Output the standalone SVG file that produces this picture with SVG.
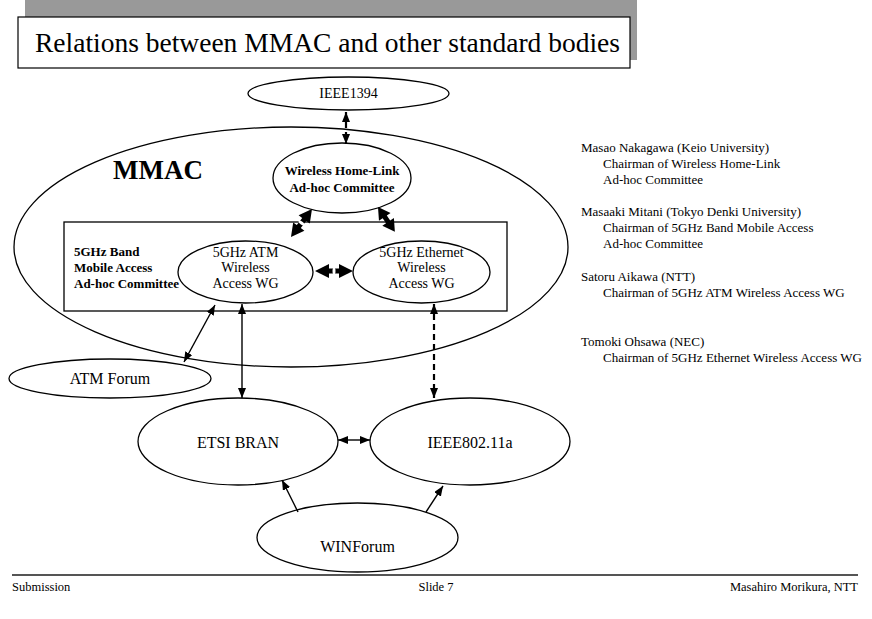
<svg xmlns="http://www.w3.org/2000/svg" width="872" height="619" viewBox="0 0 872 619">
<style>
text{font-family:"Liberation Serif","Times New Roman",serif;fill:#000}
.t13{font-size:13px}
.t14{font-size:14px}
.t16{font-size:16px}
.b{font-weight:bold}
.mid{text-anchor:middle}
.node{fill:#fff;stroke:#000;stroke-width:1.3}
.open{fill:none;stroke:#000;stroke-width:1.3}
.ln{stroke:#000;stroke-width:1.4;fill:none}
.dash{stroke:#000;stroke-width:2.2;stroke-dasharray:6,4;fill:none}
.blk{fill:#000}
</style>
<defs>
<marker id="ah" viewBox="0 0 10 8" refX="10" refY="4" markerWidth="10" markerHeight="8" markerUnits="userSpaceOnUse" orient="auto-start-reverse">
<path d="M0,0 L10,4 L0,8 z" fill="#000"/>
</marker>
</defs>
<rect width="872" height="619" fill="#fff"/>

<g id="title">
<rect x="25" y="0" width="612" height="60" fill="#999"/>
<rect x="18" y="17" width="612" height="51" fill="#fff" stroke="#000" stroke-width="1.2"/>
<text x="35" y="52" style="font-size:27.5px">Relations between MMAC and other standard bodies</text>
</g>

<g id="mmac">
<ellipse class="open" cx="291" cy="247" rx="277" ry="120"/>
<text x="113" y="179" class="b" style="font-size:27px">MMAC</text>
</g>

<g id="band-committee">
<rect class="open" x="64" y="222" width="443" height="89"/>
<text x="74" y="256" class="t13 b">5GHz Band</text>
<text x="74" y="272" class="t13 b">Mobile Access</text>
<text x="74" y="288" class="t13 b">Ad-hoc Committee</text>
</g>

<g id="ieee1394">
<ellipse class="node" cx="348.5" cy="93.5" rx="100.5" ry="16.5"/>
<text x="348.5" y="98" class="t14 mid">IEEE1394</text>
</g>

<g id="homelink">
<ellipse class="node" cx="342" cy="178" rx="69" ry="35"/>
<text x="342" y="175" class="t13 b mid">Wireless Home-Link</text>
<text x="342" y="192" class="t13 b mid">Ad-hoc Committee</text>
</g>

<g id="atm-wg">
<ellipse class="node" cx="245.5" cy="272" rx="67.5" ry="31"/>
<text x="245.5" y="257" class="t14 mid">5GHz ATM</text>
<text x="245.5" y="272" class="t14 mid">Wireless</text>
<text x="245.5" y="288" class="t14 mid">Access WG</text>
</g>

<g id="eth-wg">
<ellipse class="node" cx="421.5" cy="272" rx="68.5" ry="31"/>
<text x="421.5" y="257" class="t14 mid">5GHz Ethernet</text>
<text x="421.5" y="272" class="t14 mid">Wireless</text>
<text x="421.5" y="288" class="t14 mid">Access WG</text>
</g>

<g id="atm-forum">
<ellipse class="node" cx="110" cy="378.5" rx="101" ry="19.5"/>
<text x="110" y="384" class="t16 mid">ATM Forum</text>
</g>

<g id="etsi">
<ellipse class="node" cx="238" cy="441.5" rx="100" ry="43.5"/>
<text x="238" y="448" class="t16 mid">ETSI BRAN</text>
</g>

<g id="ieee80211a">
<ellipse class="node" cx="470" cy="441.5" rx="100" ry="43.5"/>
<text x="470" y="448" class="t16 mid">IEEE802.11a</text>
</g>

<g id="winforum">
<ellipse class="node" cx="357.5" cy="537.5" rx="100.5" ry="34.5"/>
<text x="357.5" y="552" class="t16 mid">WINForum</text>
</g>

<g id="connectors">
<line class="dash" x1="346" y1="112" x2="346" y2="144" marker-start="url(#ah)" marker-end="url(#ah)"/>
<line class="dash" x1="434" y1="304" x2="434" y2="398" marker-start="url(#ah)" marker-end="url(#ah)"/>
<line class="ln" x1="242" y1="304" x2="242" y2="398" marker-start="url(#ah)" marker-end="url(#ah)"/>
<line class="ln" x1="215" y1="305" x2="184" y2="362" marker-start="url(#ah)" marker-end="url(#ah)"/>
<line class="ln" x1="338" y1="440" x2="370" y2="440" marker-start="url(#ah)" marker-end="url(#ah)"/>
<line class="ln" x1="298" y1="512" x2="282" y2="480" marker-end="url(#ah)"/>
<line class="ln" x1="426" y1="512" x2="443" y2="486" marker-end="url(#ah)"/>
<g transform="translate(315,271)">
<path class="blk" d="M0,0 L14,-7 L14,-2.5 L24,-2.5 L24,-7 L38,0 L24,7 L24,2.5 L14,2.5 L14,7 Z"/>
<ellipse cx="19" cy="0" rx="1.5" ry="3.5" fill="#fff"/>
</g>
<g transform="translate(312,209) rotate(126.9)">
<path class="blk" d="M0,0 L13,-7 L13,-2.5 L22,-2.5 L22,-7 L35,0 L22,7 L22,2.5 L13,2.5 L13,7 Z"/>
<ellipse cx="17.5" cy="0" rx="1.5" ry="3.5" fill="#fff"/>
</g>
<g transform="translate(378,207) rotate(55.8)">
<path class="blk" d="M0,0 L12,-7 L12,-2.5 L18,-2.5 L18,-7 L30,0 L18,7 L18,2.5 L12,2.5 L12,7 Z"/>
</g>
</g>

<g id="notes">
<text x="581" y="152" class="t13">Masao Nakagawa (Keio University)</text>
<text x="603" y="168" class="t13">Chairman of Wireless Home-Link</text>
<text x="603" y="184" class="t13">Ad-hoc Committee</text>
<text x="581" y="216" class="t13">Masaaki Mitani (Tokyo Denki University)</text>
<text x="603" y="232" class="t13">Chairman of 5GHz Band Mobile Access</text>
<text x="603" y="248" class="t13">Ad-hoc Committee</text>
<text x="581" y="281" class="t13">Satoru Aikawa (NTT)</text>
<text x="603" y="297" class="t13">Chairman of 5GHz ATM Wireless Access WG</text>
<text x="581" y="346" class="t13">Tomoki Ohsawa (NEC)</text>
<text x="603" y="362" class="t13">Chairman of 5GHz Ethernet Wireless Access WG</text>
</g>

<g id="footer">
<line x1="12" y1="575" x2="858" y2="575" stroke="#555" stroke-width="2"/>
<text x="12" y="591" style="font-size:12.5px">Submission</text>
<text x="436" y="591" class="mid" style="font-size:12.5px">Slide 7</text>
<text x="858" y="591" style="font-size:12.5px;text-anchor:end">Masahiro Morikura, NTT</text>
</g>
</svg>
